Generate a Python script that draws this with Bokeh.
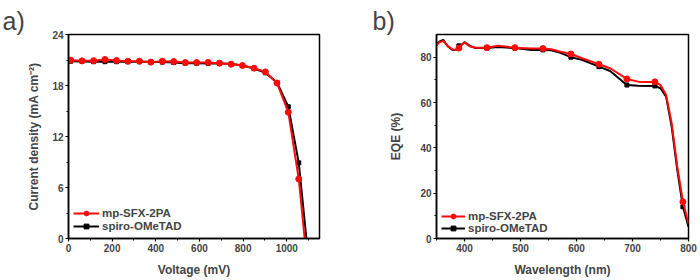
from bokeh.plotting import figure
from bokeh.layouts import row
from bokeh.models import Legend, LegendItem, FixedTicker, Range1d
from bokeh.embed import file_html
from bokeh.resources import INLINE

# ---- Panel a: J-V ----
v_red = [10, 62, 115, 167, 220, 272, 325, 377, 430, 482, 535, 587, 640, 692, 745, 797, 850, 902, 955, 1007, 1055, 1082]
j_red = [20.98, 20.9, 20.92, 21.06, 20.94, 20.86, 20.86, 20.75, 20.86, 20.82, 20.7, 20.7, 20.72, 20.63, 20.5, 20.35, 20.04, 19.6, 18.3, 14.86, 7.0, 0.0]
v_blk = [10, 62, 115, 167, 220, 272, 325, 377, 430, 482, 535, 587, 640, 692, 745, 797, 850, 902, 955, 1007, 1055, 1090]
j_blk = [20.85, 20.82, 20.8, 20.8, 20.8, 20.8, 20.8, 20.78, 20.75, 20.7, 20.62, 20.62, 20.6, 20.6, 20.55, 20.35, 20.0, 19.5, 18.35, 15.5, 8.9, 0.0]

# ---- Panel b: EQE ----
wl = [350, 355, 362, 370, 378, 385, 390, 395, 400, 405, 410, 420, 440, 460, 490, 520, 540, 555, 570, 590, 610, 640, 660, 690, 710, 730, 740, 750, 760, 770, 780, 790, 800]
eqe_red = [85.2, 86.5, 87.2, 85.0, 83.5, 83.2, 84.0, 85.5, 86.4, 85.5, 84.7, 84.2, 84.2, 85.0, 84.2, 83.8, 83.8, 83.5, 82.5, 81.4, 79.5, 76.9, 75.1, 70.4, 69.2, 69.0, 69.1, 67.7, 63.3, 50.8, 31.7, 16.2, 6.6]
eqe_blk = [85.8, 86.8, 87.6, 84.8, 83.3, 83.2, 85.0, 85.5, 86.6, 85.8, 85.0, 84.0, 84.0, 84.5, 84.0, 83.2, 83.2, 83.0, 82.0, 80.0, 78.8, 75.8, 73.9, 67.7, 67.4, 67.3, 67.3, 66.3, 62.6, 49.3, 30.2, 14.0, 5.2]
wl_markers = [390, 440, 490, 540, 590, 640, 690, 740, 790]

labels = ["mp-SFX-2PA", "spiro-OMeTAD"]
RED = "#ff0a0a"
BLK = "#000000"
FONT = "Liberation Sans"


def style(p, xticks, xminor, yticks, yminor, xlabel, ylabel, panel, offset):
    p.outline_line_color = "black"
    p.outline_line_width = 1.5
    p.xgrid.visible = False
    p.ygrid.visible = False
    p.background_fill_color = "white"
    p.border_fill_color = "white"
    for ax, ticks, minor, lab in ((p.xaxis[0], xticks, xminor, xlabel), (p.yaxis[0], yticks, yminor, ylabel)):
        ax.ticker = FixedTicker(ticks=ticks, minor_ticks=minor)
        ax.axis_label = lab
        ax.axis_label_text_font = FONT
        ax.axis_label_text_font_style = "bold"
        ax.axis_label_text_font_size = "12px"
        ax.major_label_text_font = FONT
        ax.major_label_text_font_style = "bold"
        ax.major_label_text_font_size = "10px"
        ax.axis_line_width = 1.5
        ax.major_tick_line_width = 1.2
        ax.minor_tick_line_width = 1.0
        ax.major_tick_in = 0
        ax.major_tick_out = 3
        ax.minor_tick_in = 0
        ax.minor_tick_out = 2
        ax.major_label_standoff = 2
    p.xaxis[0].axis_label_standoff = 8
    p.yaxis[0].axis_label_standoff = 8
    p.title.text = panel
    p.title.text_font = FONT
    p.title.text_font_style = "normal"
    p.title.text_font_size = "25px"
    p.title.align = "left"
    p.title.offset = offset
    p.title.standoff = 0


# Panel a
pa = figure(width=350, height=280, output_backend="svg", toolbar_location=None,
            x_range=Range1d(0, 1150), y_range=Range1d(0, 24),
            min_border_left=68, min_border_right=31, min_border_top=34, min_border_bottom=42)
style(pa, [0, 200, 400, 600, 800, 1000], [100, 300, 500, 700, 900, 1100],
      [0, 6, 12, 18, 24], [3, 9, 15, 21], "Voltage (mV)", "Current density (mA cm\u207b\u00b2)", "a)", -66)
la_r = pa.line(v_red, j_red, line_color=RED, line_width=2)
ma_r = pa.scatter(v_red[:-1], j_red[:-1], marker="circle", size=6, color=RED)
la_b = pa.line(v_blk, j_blk, line_color=BLK, line_width=2)
ma_b = pa.scatter(v_blk[:-1], j_blk[:-1], marker="square", size=4, color=BLK)
pa.renderers = [la_b, ma_b, la_r, ma_r]
leg_a = Legend(items=[LegendItem(label=labels[0], renderers=[la_r, ma_r]),
                      LegendItem(label=labels[1], renderers=[la_b, ma_b])],
               location=(5, 6), glyph_width=26, glyph_height=12, spacing=1, padding=4, margin=0,
               label_text_font=FONT, label_text_font_style="bold", label_text_font_size="11.5px",
               label_standoff=3, border_line_color=None, background_fill_alpha=0)
pa.add_layout(leg_a)

# Panel b
pb = figure(width=350, height=280, output_backend="svg", toolbar_location=None,
            x_range=Range1d(350, 800), y_range=Range1d(0, 90),
            min_border_left=86, min_border_right=12, min_border_top=34, min_border_bottom=42)
style(pb, [400, 500, 600, 700, 800], [350, 450, 550, 650, 750],
      [0, 20, 40, 60, 80], [10, 30, 50, 70], "Wavelength (nm)", "EQE (%)", "b)", -64)
pb.yaxis[0].axis_label_standoff = 14
mr_x = [w for w in wl if w in wl_markers]
mr_y = [e for w, e in zip(wl, eqe_red) if w in wl_markers]
mb_y = [e for w, e in zip(wl, eqe_blk) if w in wl_markers]
lb_b = pb.line(wl, eqe_blk, line_color=BLK, line_width=2)
mb_b = pb.scatter(mr_x, mb_y, marker="square", size=4, color=BLK)
lb_r = pb.line(wl, eqe_red, line_color=RED, line_width=2)
mb_r = pb.scatter(mr_x, mr_y, marker="circle", size=6, color=RED)
leg_b = Legend(items=[LegendItem(label=labels[0], renderers=[lb_r, mb_r]),
                      LegendItem(label=labels[1], renderers=[lb_b, mb_b])],
               location=(5, 4), glyph_width=24, glyph_height=12, spacing=0, padding=4, margin=0,
               label_text_font=FONT, label_text_font_style="bold", label_text_font_size="11.5px",
               label_standoff=3, border_line_color=None, background_fill_alpha=0)
pb.add_layout(leg_b)

layout = row(pa, pb, spacing=0)
open("out.html", "w").write(file_html(layout, INLINE))
